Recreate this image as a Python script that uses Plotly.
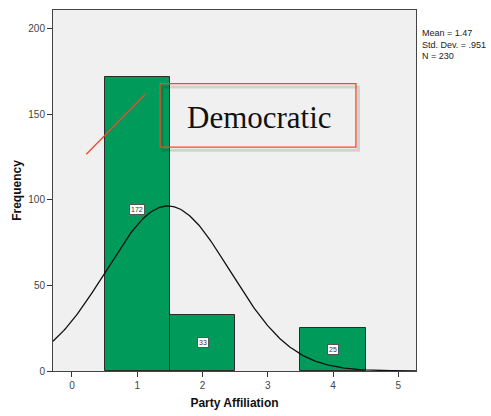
import numpy as np
import plotly.graph_objects as go

# Data
categories = [1, 2, 4]
counts = [172, 33, 25]
MEAN = 1.47
SD = 0.951
N = 230
x_ticks = [0, 1, 2, 3, 4, 5]
y_ticks = [0, 50, 100, 150, 200]

BAR_COLOR = "#009a5b"
PLOT_BG = "#f0f0f0"

fig = go.Figure()

fig.add_trace(go.Bar(
    x=categories, y=counts, width=1,
    marker=dict(color=BAR_COLOR, line=dict(color="#2b2b2b", width=1)),
    hoverinfo="x+y", showlegend=False,
))

# fitted normal curve from the displayed Mean / Std. Dev. / N (bin width 1)
xs = np.linspace(-0.29, 5.27, 300)
ys = N / (SD * np.sqrt(2 * np.pi)) * np.exp(-0.5 * ((xs - MEAN) / SD) ** 2)
fig.add_trace(go.Scatter(x=xs, y=ys, mode="lines",
                         line=dict(color="#111111", width=1.3),
                         showlegend=False, hoverinfo="skip"))

annotations = []
# count labels in boxes
for c, v in zip(categories, counts):
    annotations.append(dict(
        x=c, y=v * 0.55 if v > 100 else v / 2, xref="x", yref="y", text=str(v),
        showarrow=False, font=dict(family="Liberation Sans", size=7, color="#333"),
        bgcolor="white", bordercolor="#555", borderwidth=1, borderpad=1,
    ))

# stats text
annotations.append(dict(
    x=1.01, y=0.955, xref="paper", yref="paper", xanchor="left", yanchor="top",
    text="Mean = 1.47<br>Std. Dev. = .951<br>N = 230", showarrow=False, align="left",
    font=dict(family="Liberation Sans", size=9, color="#222"),
))

# Democratic callout text
annotations.append(dict(
    x=2.87, y=148, xref="x", yref="y", text="Democratic", showarrow=False,
    font=dict(family="Liberation Serif", size=31, color="#111"),
))

shapes = [
    # shadow of box
    dict(type="rect", xref="x", yref="y", x0=1.38, x1=4.39, y0=129, y1=166,
         line=dict(color="rgba(0,0,0,0.12)", width=3)),
    dict(type="rect", xref="x", yref="y", x0=1.35, x1=4.35, y0=130.8, y1=168,
         line=dict(color="#f2492a", width=1.3)),
    dict(type="line", xref="x", yref="y", x0=0.22, y0=126.7, x1=1.12, y1=161.6,
         line=dict(color="#f2492a", width=1.3)),
]

fig.update_layout(
    width=491, height=416,
    margin=dict(l=53, r=75, t=9, b=44),
    paper_bgcolor="white", plot_bgcolor=PLOT_BG,
    bargap=0,
    annotations=annotations, shapes=shapes,
    xaxis=dict(range=[-0.29, 5.27], tickvals=x_ticks, ticks="outside", ticklen=5,
               tickcolor="#333", showgrid=False, zeroline=False,
               showline=True, linecolor="#444", mirror=True,
               tickfont=dict(family="Liberation Sans", size=10, color="#444"),
               title=dict(text="<b>Party Affiliation</b>", standoff=8,
                          font=dict(family="Liberation Sans", size=12, color="#111"))),
    yaxis=dict(range=[0, 211], tickvals=y_ticks, ticks="outside", ticklen=5,
               tickcolor="#333", showgrid=False, zeroline=False,
               showline=True, linecolor="#444", mirror=True,
               tickfont=dict(family="Liberation Sans", size=10, color="#444"),
               title=dict(text="<b>Frequency</b>", standoff=4,
                          font=dict(family="Liberation Sans", size=12, color="#111"))),
)

fig.write_html("out.html")
